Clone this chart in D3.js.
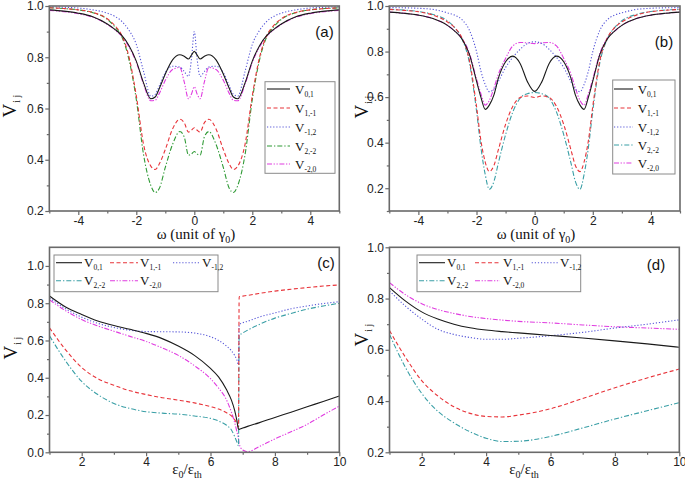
<!DOCTYPE html>
<html><head><meta charset="utf-8">
<script src="https://cdn.jsdelivr.net/npm/d3@7"></script>
<style>body{margin:0;background:#fff;} svg{display:block;}</style>
</head><body>
<svg id="chart" width="685" height="486"></svg>
<script>
// ---------- DATA ----------
const seriesLabels = ["0,1", "1,-1", "-1,2", "2,-2", "-2,0"];

const omegaA = [-5,-4.5,-4,-3.5,-3,-2.75,-2.5,-2.25,-2,-1.75,-1.5,-1.35,-1.2,-1,-0.75,-0.5,-0.35,-0.2,-0.1,0,0.1,0.2,0.35,0.5,0.75,1,1.2,1.35,1.5,1.75,2,2.25,2.5,2.75,3,3.5,4,4.5,5];
const a_V01  = [.985,.980,.972,.958,.930,.910,.885,.845,.785,.700,.638,.645,.680,.735,.790,.810,.804,.793,.808,.823,.808,.793,.804,.810,.790,.735,.680,.645,.638,.700,.785,.845,.885,.910,.930,.958,.972,.980,.985];
const a_V1m1 = [.993,.990,.985,.975,.950,.925,.885,.800,.650,.460,.375,.362,.385,.440,.520,.558,.545,.508,.515,.525,.515,.508,.545,.558,.520,.440,.385,.362,.375,.460,.650,.800,.885,.925,.950,.975,.985,.990,.993];
const a_Vm12 = [.997,.995,.992,.985,.972,.960,.940,.905,.850,.745,.648,.655,.690,.740,.765,.762,.745,.725,.790,.900,.790,.725,.745,.762,.765,.740,.690,.655,.648,.745,.850,.905,.940,.960,.972,.985,.992,.995,.997];
const a_V2m2 = [.993,.990,.985,.974,.948,.920,.880,.790,.635,.420,.300,.272,.290,.370,.460,.510,.490,.418,.422,.432,.422,.418,.490,.510,.460,.370,.290,.272,.300,.420,.635,.790,.880,.920,.948,.974,.985,.990,.993];
const a_Vm20 = [.983,.978,.970,.956,.928,.908,.882,.840,.780,.695,.630,.632,.660,.710,.752,.760,.705,.638,.656,.685,.656,.638,.705,.760,.752,.710,.660,.632,.630,.695,.780,.840,.882,.908,.928,.956,.970,.978,.983];

const omegaB = [-5,-4.5,-4,-3.5,-3,-2.75,-2.5,-2.25,-2,-1.85,-1.7,-1.56,-1.4,-1.25,-1,-0.75,-0.5,-0.25,0,0.25,0.5,0.75,1,1.25,1.4,1.56,1.7,1.85,2,2.25,2.5,2.75,3,3.5,4,4.5,5];
const b_V01  = [.973,.968,.960,.945,.915,.890,.855,.790,.670,.600,.546,.565,.610,.682,.755,.780,.748,.668,.625,.668,.748,.780,.755,.682,.610,.565,.546,.600,.670,.790,.855,.890,.915,.945,.960,.968,.973];
const b_V1m1 = [.985,.981,.975,.960,.930,.905,.860,.765,.560,.410,.315,.273,.300,.368,.480,.560,.598,.605,.598,.605,.598,.560,.480,.368,.300,.273,.315,.410,.560,.765,.860,.905,.930,.960,.975,.981,.985];
const b_Vm12 = [.993,.992,.990,.985,.970,.960,.940,.895,.800,.715,.655,.624,.635,.668,.730,.775,.810,.835,.843,.835,.810,.775,.730,.668,.635,.624,.655,.715,.800,.895,.940,.960,.970,.985,.990,.992,.993];
const b_V2m2 = [.986,.982,.976,.963,.935,.905,.855,.755,.540,.380,.260,.195,.230,.310,.435,.535,.595,.615,.620,.615,.595,.535,.435,.310,.230,.195,.260,.380,.540,.755,.855,.905,.935,.963,.976,.982,.986];
const b_Vm20 = [.973,.968,.960,.945,.915,.890,.858,.795,.680,.615,.565,.585,.640,.700,.770,.825,.840,.838,.835,.838,.840,.825,.770,.700,.640,.585,.565,.615,.680,.795,.858,.890,.915,.945,.960,.968,.973];

const epsC = [1,1.5,2,2.5,3,3.5,4,4.5,5,5.5,6,6.25,6.5,6.65,6.75,6.82,6.87,6.89,7,7.15,7.5,8,8.5,9,9.5,10];
const c_V01  = [.839,.780,.740,.705,.680,.660,.638,.610,.570,.520,.450,.405,.335,.280,.225,.170,.125,.123,.130,.139,.158,.187,.215,.244,.273,.302];
const c_V1m1 = [.668,.550,.455,.395,.360,.330,.310,.293,.280,.265,.245,.232,.212,.195,.175,.155,.135,.835,.838,.842,.852,.865,.875,.884,.892,.898];
const c_Vm12 = [.828,.770,.725,.692,.670,.655,.648,.647,.646,.640,.620,.600,.570,.545,.520,.495,.470,.685,.695,.703,.725,.748,.770,.785,.798,.808];
const c_V2m2 = [.625,.490,.380,.310,.262,.235,.218,.210,.205,.195,.182,.168,.145,.120,.085,.055,.035,.625,.640,.655,.685,.720,.745,.768,.785,.800];
const c_Vm20 = [.818,.760,.712,.678,.650,.622,.595,.560,.520,.465,.395,.345,.280,.215,.160,.110,.070,.045,.012,.003,.030,.072,.110,.150,.200,.248];

const epsD = [1,1.5,2,2.5,3,3.5,4,4.5,5,6,7,8,9,10];
const d_V01  = [.843,.790,.748,.720,.700,.686,.677,.671,.666,.656,.646,.635,.623,.610];
const d_V1m1 = [.675,.570,.480,.420,.378,.352,.340,.338,.345,.370,.410,.452,.490,.525];
const d_Vm12 = [.830,.770,.720,.680,.660,.648,.641,.641,.645,.655,.668,.685,.700,.717];
const d_V2m2 = [.660,.530,.430,.360,.315,.280,.255,.242,.243,.262,.295,.330,.362,.394];
const d_Vm20 = [.862,.815,.780,.757,.742,.730,.722,.716,.711,.705,.697,.690,.685,.680];

const xTicksOmega = [-4,-2,0,2,4];
const xMinorOmega = [-5,-3,-1,1,3,5];
const xTicksEps = [2,4,6,8,10];
const xMinorEps = [1,3,5,7,9];

// ---------- STYLE ----------
const baseStyles = [
  {color:"#1a1a1a", dash:null},
  {color:"#e8343a", dash:"4,2.5"},
  {color:"#5555d8", dash:"1.2,1.9"},
  {color:"#3a9fa6", dash:"5,2,1.3,2"},
  {color:"#e03ce0", dash:"5,1.6,1.3,1.6,1.3,1.6"}
];
const greenA = "#2f9a35";

const svg = d3.select("#chart");
const FRAME = "#6a6a6a";
const TICKFONT = "Liberation Sans, Arial, sans-serif";
const SERIF = "Liberation Serif, Times New Roman, serif";

function drawPanel(cfg){
  const g = svg.append("g");
  const x = d3.scaleLinear().domain(cfg.xDomain).range([cfg.left, cfg.right]);
  const y = d3.scaleLinear().domain(cfg.yDomain).range([cfg.bottom, cfg.top]);
  const clipId = "clip" + cfg.id;
  svg.append("clipPath").attr("id", clipId).append("rect")
    .attr("x", cfg.left).attr("y", cfg.top - 1)
    .attr("width", cfg.right - cfg.left).attr("height", cfg.bottom - cfg.top + 1);

  const line = d3.line().x(d => x(d[0])).y(d => y(d[1])).curve(d3.curveMonotoneX);
  const lg = g.append("g").attr("clip-path", `url(#${clipId})`);
  for (let i = cfg.series.length - 1; i >= 0; i--) {
    const st = cfg.styles[i];
    const pts = cfg.xs.map((v, k) => [v, cfg.series[i][k]]);
    lg.append("path").attr("d", line(pts)).attr("fill", "none")
      .attr("stroke", st.color).attr("stroke-width", 1.1)
      .attr("stroke-dasharray", st.dash);
  }

  const fmtX = d => String(d);
  const fmtY = d3.format(".1f");
  const bx = g.append("g").attr("transform", `translate(0,${cfg.bottom})`)
    .call(d3.axisBottom(x).tickValues(cfg.xTicks).tickSize(4).tickPadding(1).tickFormat(fmtX));
  const bxm = g.append("g").attr("transform", `translate(0,${cfg.bottom})`)
    .call(d3.axisBottom(x).tickValues(cfg.xMinor).tickSize(2.5).tickFormat(""));
  const ly = g.append("g").attr("transform", `translate(${cfg.left},0)`)
    .call(d3.axisLeft(y).tickValues(cfg.yTicks).tickSize(4).tickPadding(1.5).tickFormat(fmtY));
  const lym = g.append("g").attr("transform", `translate(${cfg.left},0)`)
    .call(d3.axisLeft(y).tickValues(cfg.yMinor).tickSize(2.5).tickFormat(""));
  [bx, bxm, ly, lym].forEach(a => {
    a.select(".domain").remove();
    a.selectAll(".tick line").attr("stroke", FRAME).attr("stroke-width", 1.2);
    a.selectAll(".tick text").attr("font-family", TICKFONT).attr("font-size", 12).attr("fill", "#222");
  });

  g.append("rect").attr("x", cfg.left).attr("y", cfg.top)
    .attr("width", cfg.right - cfg.left).attr("height", cfg.bottom - cfg.top)
    .attr("fill", "none").attr("stroke", FRAME).attr("stroke-width", 1.6);

  g.append("text").attr("x", cfg.labelPos[0]).attr("y", cfg.labelPos[1])
    .attr("text-anchor", "middle").attr("font-family", TICKFONT).attr("font-size", 15)
    .attr("fill", "#111").text(cfg.label);

  const yt = g.append("text").attr("transform", `translate(${cfg.yTitle[0]},${cfg.yTitle[1]}) rotate(-90)`)
    .attr("text-anchor", "middle").attr("font-family", SERIF).attr("fill", "#111");
  yt.append("tspan").attr("font-size", 19).text("V");
  yt.append("tspan").attr("font-size", 10).attr("dy", 4).attr("dx", 1).text("i j");

  const xt = g.append("text").attr("x", cfg.xTitle[0]).attr("y", cfg.xTitle[1])
    .attr("text-anchor", "middle").attr("font-family", SERIF).attr("font-size", 15).attr("fill", "#111");
  cfg.xTitleParts.forEach(p => {
    const t = xt.append("tspan").text(p.t);
    if (p.sub) t.attr("font-size", 10).attr("dy", 4);
    if (p.up) t.attr("dy", -4);
  });

  const L = cfg.legend;
  g.append("rect").attr("x", L.box[0]).attr("y", L.box[1]).attr("width", L.box[2]).attr("height", L.box[3])
    .attr("fill", "#fff").attr("stroke", "#8a8a8a").attr("stroke-width", 1);
  L.items.forEach((it, i) => {
    const st = cfg.styles[i];
    g.append("line").attr("x1", it[0]).attr("x2", it[1]).attr("y1", it[3]).attr("y2", it[3])
      .attr("stroke", st.color).attr("stroke-width", 1.1).attr("stroke-dasharray", st.dash);
    const t = g.append("text").attr("x", it[2]).attr("y", it[3] + 4.5)
      .attr("font-family", SERIF).attr("fill", "#111");
    t.append("tspan").attr("font-size", 13).text("V");
    t.append("tspan").attr("font-size", 7.5).attr("dy", 3).text(seriesLabels[i]);
  });
}

const omegaTitle = [{t:"ω  (unit of γ"},{t:"0",sub:true},{t:")",up:true}];
const epsTitle = [{t:"ε"},{t:"0",sub:true},{t:"/ε",up:true},{t:"th",sub:true}];

drawPanel({
  id:"a", left:49.3, right:339.3, top:6, bottom:211,
  xDomain:[-5,5], yDomain:[0.2,1.0],
  xTicks:xTicksOmega, xMinor:xMinorOmega,
  yTicks:[0.2,0.4,0.6,0.8,1.0], yMinor:[0.3,0.5,0.7,0.9],
  xs:omegaA, series:[a_V01,a_V1m1,a_Vm12,a_V2m2,a_Vm20],
  styles:[baseStyles[0],baseStyles[1],baseStyles[2],{color:greenA,dash:baseStyles[3].dash},baseStyles[4]],
  label:"(a)", labelPos:[324.5,37],
  yTitle:[16,106], xTitle:[196,239], xTitleParts:omegaTitle,
  legend:{box:[265,81.7,70,91.6], items:[[267,290,295,89],[267,290,295,108],[267,290,295,127],[267,290,295,146],[267,290,295,164]]}
});
drawPanel({
  id:"b", left:389.3, right:680, top:6, bottom:211,
  xDomain:[-5,5], yDomain:[0.1,1.0],
  xTicks:xTicksOmega, xMinor:xMinorOmega,
  yTicks:[0.2,0.4,0.6,0.8,1.0], yMinor:[0.1,0.3,0.5,0.7,0.9],
  xs:omegaB, series:[b_V01,b_V1m1,b_Vm12,b_V2m2,b_Vm20],
  styles:baseStyles,
  label:"(b)", labelPos:[664,47],
  yTitle:[368,107], xTitle:[536,239], xTitleParts:omegaTitle,
  legend:{box:[612.7,80,62.3,94], items:[[614,633,637.7,89],[614,633,637.7,108],[614,633,637.7,127],[614,633,637.7,145],[614,633,637.7,163]]}
});
drawPanel({
  id:"c", left:49.5, right:339.3, top:247.3, bottom:452.3,
  xDomain:[1,10], yDomain:[0,1.1],
  xTicks:xTicksEps, xMinor:xMinorEps,
  yTicks:[0,0.2,0.4,0.6,0.8,1.0], yMinor:[0.1,0.3,0.5,0.7,0.9],
  xs:epsC, series:[c_V01,c_V1m1,c_Vm12,c_V2m2,c_Vm20],
  styles:baseStyles,
  label:"(c)", labelPos:[326,268],
  yTitle:[17,348], xTitle:[187,474], xTitleParts:epsTitle,
  legend:{box:[54,255,164,36.7], items:[[56,82,84,262.7],[110,138,140,262.7],[173,200,202,262.7],[56,82,84,280.7],[110,138,140,280.7]]}
});
drawPanel({
  id:"d", left:389.5, right:679.3, top:247.3, bottom:452.3,
  xDomain:[1,10], yDomain:[0.2,1.0],
  xTicks:xTicksEps, xMinor:xMinorEps,
  yTicks:[0.2,0.4,0.6,0.8,1.0], yMinor:[0.3,0.5,0.7,0.9],
  xs:epsD, series:[d_V01,d_V1m1,d_Vm12,d_V2m2,d_Vm20],
  styles:baseStyles,
  label:"(d)", labelPos:[656,270],
  yTitle:[368,335], xTitle:[524,474], xTitleParts:epsTitle,
  legend:{box:[417,255,163.7,36.7], items:[[419,445,447,262.7],[475,500,503,262.7],[531.7,558,560,262.7],[419,445,447,280.7],[475,500,503,280.7]]}
});
</script>
</body></html>
